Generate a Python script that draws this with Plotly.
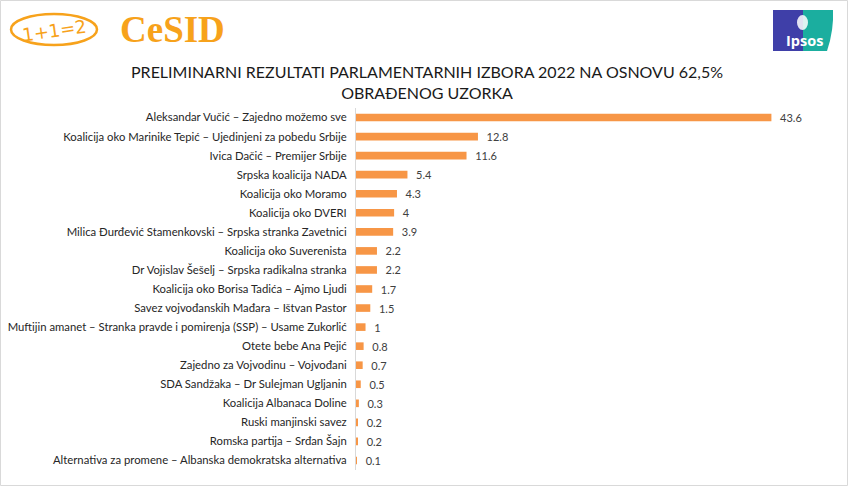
import plotly.graph_objects as go

categories = [
    "Aleksandar Vučić – Zajedno možemo sve",
    "Koalicija oko Marinike Tepić – Ujedinjeni za pobedu Srbije",
    "Ivica Dačić – Premijer Srbije",
    "Srpska koalicija NADA",
    "Koalicija oko Moramo",
    "Koalicija oko DVERI",
    "Milica Đurđević Stamenkovski – Srpska stranka Zavetnici",
    "Koalicija oko Suverenista",
    "Dr Vojislav Šešelj – Srpska radikalna stranka",
    "Koalicija oko Borisa Tadića – Ajmo Ljudi",
    "Savez vojvođanskih Mađara – Ištvan Pastor",
    "Muftijin amanet – Stranka pravde i pomirenja (SSP) – Usame Zukorlić",
    "Otete bebe Ana Pejić",
    "Zajedno za Vojvodinu – Vojvođani",
    "SDA Sandžaka – Dr Sulejman Ugljanin",
    "Koalicija Albanaca Doline",
    "Ruski manjinski savez",
    "Romska partija – Srđan Šajn",
    "Alternativa za promene – Albanska demokratska alternativa",
]
values = [43.6, 12.8, 11.6, 5.4, 4.3, 4, 3.9, 2.2, 2.2, 1.7, 1.5, 1, 0.8, 0.7, 0.5, 0.3, 0.2, 0.2, 0.1]
value_labels = ["\u00a0\u00a0" + ("%g" % v) for v in values]

title_text = "PRELIMINARNI REZULTATI PARLAMENTARNIH IZBORA 2022 NA OSNOVU 62,5%<br>OBRAĐENOG UZORKA"

W, H = 848, 486
L, R, T, B = 356, 28, 108, 16
PW, PH = W - L - R, H - T - B

def px(x):
    return (x - L) / PW

def py(y):
    return (H - B - y) / PH

fig = go.Figure()
fig.add_trace(go.Bar(
    y=categories, x=values, orientation="h",
    marker=dict(color="#F79646", line=dict(width=0)),
    text=value_labels, textposition="outside", cliponaxis=False, constraintext="none",
    textfont=dict(family="Lato", size=11, color="#404040"),
    hoverinfo="skip",
))

shapes = [
    dict(type="rect", xref="paper", yref="paper", x0=px(0.5), x1=px(847.5), y0=py(485.5), y1=py(0.5),
         line=dict(color="#D9D9D9", width=1), fillcolor="rgba(0,0,0,0)", layer="below"),
    dict(type="circle", xref="paper", yref="paper", x0=px(11), x1=px(97), y0=py(45), y1=py(14),
         line=dict(color="#F7A21B", width=2.5)),
    dict(type="rect", xref="paper", yref="paper", x0=px(773), x1=px(803), y0=py(51), y1=py(10),
         line=dict(width=0), fillcolor="#3F3FA8"),
    dict(type="path", xref="paper", yref="paper",
         path=f"M {px(803)} {py(10)} L {px(833)} {py(10)} Q {px(834)} {py(30)} {px(827)} {py(51)} L {px(803)} {py(51)} Z",
         line=dict(width=0), fillcolor="#1BAE9F"),
    dict(type="circle", xref="paper", yref="paper", x0=px(797), x1=px(808), y0=py(30), y1=py(15),
         line=dict(width=0), fillcolor="rgba(255,255,255,0.85)"),
]

annotations = [
    dict(text="1+1=2", xref="paper", yref="paper", x=px(54), y=py(30), xanchor="center", yanchor="middle",
         showarrow=False, font=dict(family="DejaVu Sans", size=18, color="#F7A21B"), textangle=-8),
    dict(text="<b>CeSID</b>", xref="paper", yref="paper", x=px(172), y=py(29), xanchor="center", yanchor="middle",
         showarrow=False, font=dict(family="Liberation Serif", size=37, color="#F7A21B")),
    dict(text="<b>Ipsos</b>", xref="paper", yref="paper", x=px(804), y=py(40), xanchor="center", yanchor="middle",
         showarrow=False, font=dict(family="Open Sans", size=14.5, color="white")),
    dict(text=title_text, xref="paper", yref="paper", x=px(427), y=py(82), xanchor="center", yanchor="middle",
         showarrow=False, font=dict(family="Lato", size=16, color="#1A1A1A"), align="center"),
]

fig.update_layout(
    width=W, height=H,
    margin=dict(l=L, r=R, t=T, b=B, autoexpand=False),
    paper_bgcolor="white", plot_bgcolor="white",
    showlegend=False, bargap=0.6,
    shapes=shapes, annotations=annotations,
    xaxis=dict(range=[0, 48.7], visible=False, fixedrange=True),
    yaxis=dict(autorange="reversed", showline=True, linecolor="#D9D9D9", linewidth=1,
               ticks="", showgrid=False, ticklabelstandoff=6,
               tickfont=dict(family="Lato", size=11.3, color="#262626")),
)

fig.write_html("out.html", config={"displayModeBar": False},
               post_script="document.body.style.margin='0px';")
